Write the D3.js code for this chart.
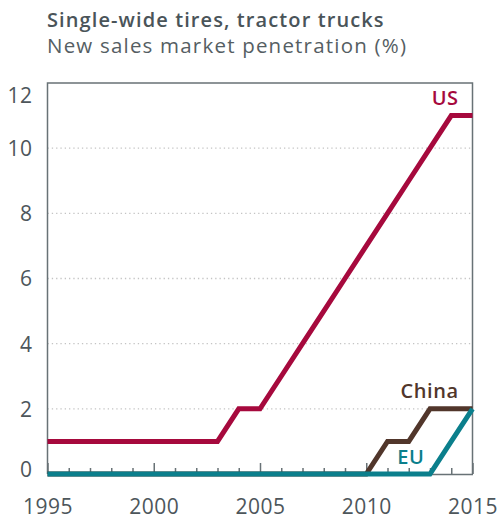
<!DOCTYPE html>
<html>
<head>
<meta charset="utf-8">
<script src="https://cdnjs.cloudflare.com/ajax/libs/d3/7.8.5/d3.min.js"></script>
<style>
  body { margin: 0; background: #fff; }
  svg { display: block; font-family: "Open Sans", sans-serif; }
</style>
</head>
<body>
<div id="chart"></div>
<script>
var years = [1995, 1996, 1997, 1998, 1999, 2000, 2001, 2002, 2003, 2004, 2005,
             2006, 2007, 2008, 2009, 2010, 2011, 2012, 2013, 2014, 2015];
var usValues    = [1, 1, 1, 1, 1, 1, 1, 1, 1, 2, 2, 3, 4, 5, 6, 7, 8, 9, 10, 11, 11];
var chinaValues = [0, 0, 0, 0, 0, 0, 0, 0, 0, 0, 0, 0, 0, 0, 0, 0, 1, 1, 2, 2, 2];
var euValues    = [0, 0, 0, 0, 0, 0, 0, 0, 0, 0, 0, 0, 0, 0, 0, 0, 0, 0, 0, 1, 2];
var yTicks = [0, 2, 4, 6, 8, 10, 12];
var xLabels = [1995, 2000, 2005, 2010, 2015];

var svgWidth = 499;
var svgHeight = 516;

var margin = {
  top: 83,
  right: 26.5,
  bottom: 42,
  left: 47.5
};

var width = svgWidth - margin.left - margin.right;
var height = svgHeight - margin.top - margin.bottom;

var textColor = "#4d565b";
var axisColor = "#687276";

var svg = d3.select("#chart")
            .append("svg")
                .attr("width", svgWidth)
                .attr("height", svgHeight);

// titles
svg.append("text")
    .attr("x", 47)
    .attr("y", 27)
    .attr("fill", "#4a5459")
    .style("font-size", "20px")
    .style("font-weight", 600)
    .style("letter-spacing", "1.1px")
    .text("Single-wide tires, tractor trucks");

svg.append("text")
    .attr("x", 47)
    .attr("y", 53)
    .attr("fill", "#555e63")
    .style("font-size", "20.5px")
    .style("letter-spacing", "1.2px")
    .text("New sales market penetration (%)");

var chartGroup = svg.append("g")
    .attr("transform", `translate(${margin.left}, ${margin.top})`);

var xScale = d3.scaleLinear()
    .domain([1995, 2015])
    .range([0, width]);

var yScale = d3.scaleLinear()
    .domain([0, 12])
    .range([height, 0]);

// dotted gridlines
chartGroup.selectAll("line.grid")
    .data(yTicks.filter(d => d > 0 && d < 12))
    .enter().append("line")
    .attr("class", "grid")
    .attr("x1", 0)
    .attr("x2", width)
    .attr("y1", d => yScale(d))
    .attr("y2", d => yScale(d))
    .attr("stroke", "#c4c4c4")
    .attr("stroke-width", 1.3)
    .attr("stroke-dasharray", "1.3,3");

// frame: left, top, right
chartGroup.append("path")
    .attr("d", `M0,${height}V0H${width}V${height}`)
    .attr("fill", "none")
    .attr("stroke", axisColor)
    .attr("stroke-width", 1.5);

// y axis labels
var leftAxis = d3.axisLeft(yScale)
    .tickValues(yTicks)
    .tickSize(0)
    .tickPadding(15);

var yAxis = chartGroup.append("g").call(leftAxis);
yAxis.select(".domain").remove();
yAxis.selectAll("text")
    .attr("fill", textColor)
    .style("font-size", "21px")
    .style("font-family", "'Open Sans', sans-serif")
    .style("letter-spacing", "0.5px")
    .attr("dy", d => d === 12 ? "0.95em" : (d === 0 ? "0.1em" : "0.35em"));

// x axis: ticks pointing up, labels below
var bottomAxis = d3.axisBottom(xScale)
    .tickValues(years)
    .tickSize(0)
    .tickFormat(d => xLabels.indexOf(d) >= 0 ? d : "");

var xAxis = chartGroup.append("g")
    .attr("transform", `translate(0, ${height})`)
    .call(bottomAxis);
xAxis.select(".domain")
    .attr("stroke", axisColor)
    .attr("stroke-width", 1.5);
xAxis.selectAll(".tick line")
    .attr("y2", d => xLabels.indexOf(d) >= 0 ? -11 : -6)
    .attr("stroke", axisColor)
    .attr("stroke-width", 1.5);
xAxis.selectAll(".tick text")
    .attr("y", 40)
    .attr("dy", 0)
    .attr("fill", textColor)
    .style("font-size", "21px")
    .style("font-family", "'Open Sans', sans-serif")
    .style("letter-spacing", "0.5px");

// lines
var line = d3.line()
    .x((d, i) => xScale(years[i]))
    .y(d => yScale(d));

var series = [
  { name: "US", values: usValues, color: "#a6093d" },
  { name: "China", values: chinaValues, color: "#51362b" },
  { name: "EU", values: euValues, color: "#0b7f8c" }
];

chartGroup.selectAll("path.series")
    .data(series)
    .enter().append("path")
    .attr("class", "series")
    .attr("d", d => line(d.values))
    .attr("fill", "none")
    .attr("stroke", d => d.color)
    .attr("stroke-width", 5)
    .attr("stroke-linejoin", "miter");

// series labels
var labelPos = {
  US: { year: 2014.35, value: 11.0, dy: -11, anchor: "end" },
  China: { year: 2014.35, value: 2.0, dy: -11, anchor: "end" },
  EU: { year: 2012.1, value: 0, dy: -10, anchor: "middle" }
};

chartGroup.selectAll("text.series-label")
    .data(series)
    .enter().append("text")
    .attr("class", "series-label")
    .attr("x", d => xScale(labelPos[d.name].year))
    .attr("y", d => yScale(labelPos[d.name].value) + labelPos[d.name].dy)
    .attr("text-anchor", d => labelPos[d.name].anchor)
    .attr("fill", d => d.color)
    .style("font-size", "20px")
    .style("font-weight", 600)
    .style("letter-spacing", "0.6px")
    .text(d => d.name);
</script>
</body>
</html>
